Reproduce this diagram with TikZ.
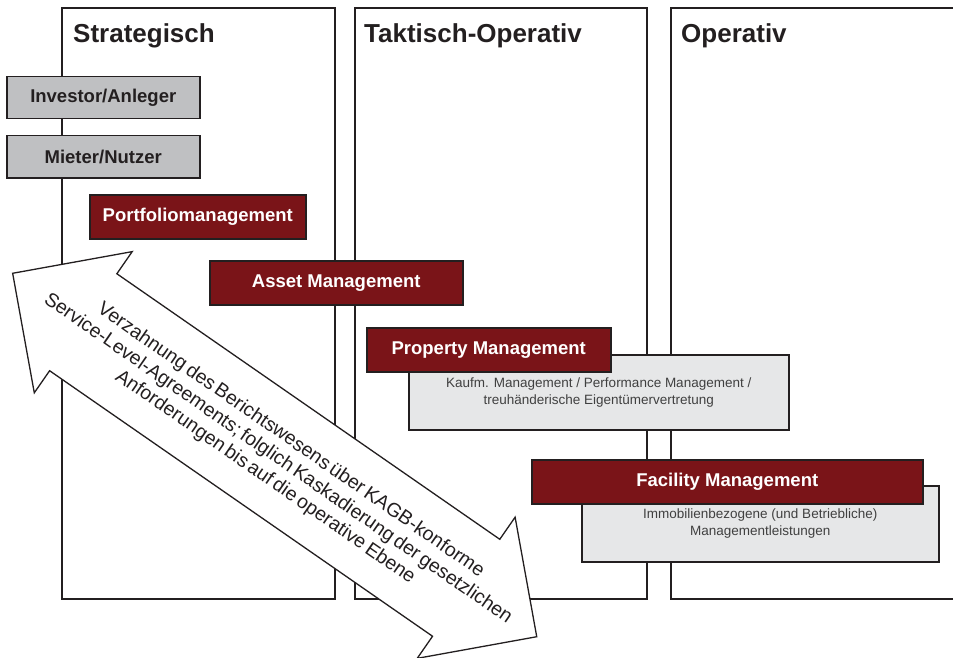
\documentclass[tikz,border=0pt]{standalone}
\usepackage{fontspec}
\setmainfont{Liberation Sans}
\newfontfamily\arrowfont{Liberation Sans}[WordSpace=0.6]
\usetikzlibrary{calc}
\definecolor{mgmtred}{RGB}{122,20,24}
\definecolor{partygrey}{RGB}{191,192,194}
\definecolor{detailgrey}{RGB}{230,231,232}
\definecolor{linecolor}{RGB}{35,31,32}
\definecolor{detailtext}{RGB}{64,64,64}
\tikzset{
column/.style={
  draw=linecolor,
  line width=1.3pt
},
coltitle/.style={
  font=\fontsize{26}{30}\selectfont\bfseries,
  text=linecolor,
  anchor=base west,
  inner sep=0pt
},
basebox/.style={
  draw=linecolor,
  line width=1.5pt,
  inner sep=0pt,
  anchor=north west
},
partybox/.style={
  basebox,
  fill=partygrey,
  minimum height=42pt,
  font=\fontsize{18.5}{22}\selectfont\bfseries,
  text=linecolor
},
mgmtbox/.style={
  basebox,
  fill=mgmtred,
  minimum height=44pt,
  font=\fontsize{18.5}{22}\selectfont\bfseries,
  text=white
},
detailbox/.style={
  basebox,
  fill=detailgrey,
  align=center,
  font=\fontsize{13.5}{17}\selectfont,
  text=detailtext
},
dblarrow/.style={
  draw=linecolor,
  fill=white,
  line width=1.3pt,
  line join=miter
},
arrowtext/.style={
  align=center,
  font=\arrowfont\fontsize{19.5}{22.5}\selectfont,
  text=linecolor,
  inner sep=0pt
}
}

\begin{document}
\begin{tikzpicture}[x=1pt, y=-1pt]
  \useasboundingbox (0,0) rectangle (953,658);

  % Columns
  \draw[column] (62,8) rectangle (335,599);
  \draw[column] (355,8) rectangle (647,599);
  \draw[column] (960,8) -- (671,8) -- (671,599) -- (960,599);

  \node[coltitle] (strat) at (73,43) {Strategisch};
  \node[coltitle] (takt) at (364,43) {Taktisch-Operativ};
  \node[coltitle] (oper) at (681,43) {Operativ};

  % Stakeholders
  \node[partybox, minimum width=193pt] (investor) at (6,76) {Investor/Anleger};
  \node[partybox, minimum width=193pt] (mieter) at (6,135) {Mieter/Nutzer};

  % Management levels
  \node[mgmtbox, minimum width=216pt] (portfolio) at (89,194) {Portfoliomanagement};
  \node[mgmtbox, minimum width=253pt] (asset) at (209,260) {Asset Management};

  \node[detailbox, minimum width=380pt, minimum height=75pt] (propdetail) at (408,354)
    {Kaufm. Management / Performance Management /\\treuhänderische Eigentümervertretung};
  \node[mgmtbox, minimum width=244pt] (property) at (366,327) {Property Management};

  \node[detailbox, minimum width=357pt, minimum height=76pt] (facdetail) at (581,485)
    {Immobilienbezogene (und Betriebliche)\\Managementleistungen};
  \node[mgmtbox, minimum width=391pt] (facility) at (531,459) {Facility Management};

  % Double arrow across the levels
  \begin{scope}[shift={(274.7,455)}, rotate=-34.74]
    \draw[dblarrow] (-318.9,0) -- (-233,-85.9) -- (-233,-59) -- (233,-59)
      -- (233,-85.9) -- (318.9,0) -- (233,85.9) -- (233,59) -- (-233,59)
      -- (-233,85.9) -- cycle;
  \end{scope}
  \node[arrowtext, rotate=-34.74] (ebene) at (278,459)
    {Verzahnung des Berichtswesens über KAGB-konforme\\
     Service-Level-Agreements; folglich Kaskadierung der gesetzlichen\\
     Anforderungen bis auf die operative Ebene};
\end{tikzpicture}
\end{document}
